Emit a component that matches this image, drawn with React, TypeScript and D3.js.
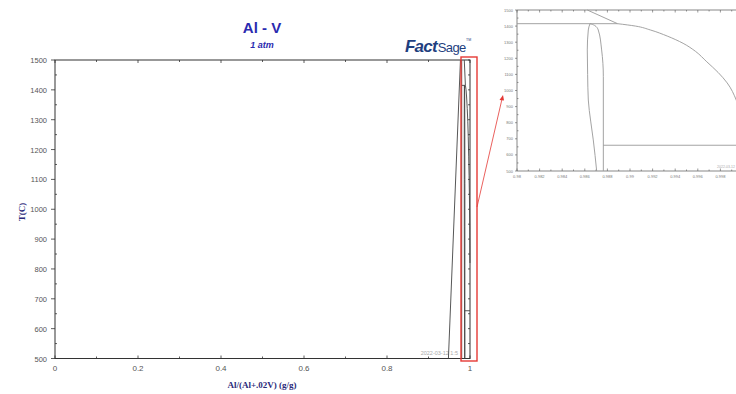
import * as d3 from "d3";

// main diagram, x = Al/(Al+.02V) mass fraction, T in C
const mainTicksX = [0, 0.2, 0.4, 0.6, 0.8, 1];
const mainTicksY = [500, 600, 700, 800, 900, 1000, 1100, 1200, 1300, 1400, 1500];
const insetTicksX = [0.98, 0.982, 0.984, 0.986, 0.988, 0.99, 0.992, 0.994, 0.996, 0.998];

// phase boundaries
const leftLiquidus: [number, number][] = [[0.948, 500], [0.977, 1500]];
const zoomEdge: [number, number][] = [[0.98, 500], [0.98, 1500]];
const peritectic: [number, number][] = [[0.98, 1415], [0.9889, 1415]];
const upperLiquidus: [number, number][] = [[0.98622, 1500], [0.9889, 1415]];
const liquidus: [number, number][] = [
  [0.9889, 1415], [0.9905, 1400], [0.9918, 1376], [0.9933, 1338], [0.9947, 1293],
  [0.9958, 1243], [0.9968, 1178], [0.9978, 1112], [0.9986, 1047], [0.9994, 941], [0.99985, 820],
];
const lensLeft: [number, number][] = [
  [0.98646, 1415], [0.98631, 1376], [0.98622, 1252], [0.98625, 1100], [0.98631, 941],
  [0.98652, 810], [0.98675, 693], [0.98705, 500],
];
const lensRight: [number, number][] = [
  [0.98646, 1415], [0.98685, 1405], [0.98719, 1376], [0.98749, 1252], [0.98764, 1086], [0.98764, 500],
];
const eutectoid: [number, number][] = [[0.98764, 660], [1.0, 660]];

const W = 736;
const H = 394;

export default function App() {
  const x = d3.scaleLinear().domain([0, 1]).range([55, 470]);
  const y = d3.scaleLinear().domain([500, 1500]).range([358.5, 60]);
  const ix = d3.scaleLinear().domain([0.98, 1.0]).range([517, 743]);
  const iy = d3.scaleLinear().domain([500, 1500]).range([171, 10]);

  const mainLine = d3.line<[number, number]>().x((d) => x(d[0])).y((d) => y(d[1]));
  const insetLine = d3
    .line<[number, number]>()
    .x((d) => ix(d[0]))
    .y((d) => iy(d[1]))
    .curve(d3.curveMonotoneY);
  const insetStraight = d3.line<[number, number]>().x((d) => ix(d[0])).y((d) => iy(d[1]));

  const mainMinorX = d3.range(0, 1.0001, 0.1);
  const mainMinorY = d3.range(500, 1501, 50);
  const insetMinorX = d3.range(0.98, 1.0001, 0.001);

  const allCurves = [peritectic, upperLiquidus, liquidus, lensLeft, lensRight, eutectoid];

  return (
    <svg width={W} height={H} style={{ position: "absolute", left: 0, top: 0, background: "#fff" }}>
      {/* titles */}
      <text x={262} y={33} textAnchor="middle" fontFamily="Arial, Liberation Sans, sans-serif" fontWeight="bold" fontSize={15} fill="#2a2ab0">
        Al - V
      </text>
      <text x={262} y={48} textAnchor="middle" fontFamily="Arial, Liberation Sans, sans-serif" fontWeight="bold" fontStyle="italic" fontSize={9} fill="#2a2ab0">
        1 atm
      </text>

      {/* logo */}
      <text x={405} y={52} fontFamily="Arial, Liberation Sans, sans-serif" fill="#1f3f7f">
        <tspan fontSize={17} fontWeight={900} fontStyle="italic" letterSpacing={-0.8}>Fact</tspan>
        <tspan fontSize={13} letterSpacing={-0.6} dx={1}>Sage</tspan>
      </text>
      <text x={466} y={41} fontFamily="Arial, sans-serif" fontSize={3.5} fill="#1f3f7f">TM</text>

      {/* main frame */}
      <rect x={x(0)} y={y(1500)} width={x(1) - x(0)} height={y(500) - y(1500)} fill="none" stroke="#333" strokeWidth={1} />
      {mainMinorX.map((v, i) => (
        <g key={"mx" + i} stroke="#333" strokeWidth={0.8}>
          <line x1={x(v)} x2={x(v)} y1={y(500)} y2={y(500) - (i % 2 === 0 ? 3 : 2)} />
          <line x1={x(v)} x2={x(v)} y1={y(1500)} y2={y(1500) + (i % 2 === 0 ? 3 : 2)} />
        </g>
      ))}
      {mainMinorY.map((v, i) => (
        <g key={"my" + i} stroke="#333" strokeWidth={0.8}>
          <line x1={x(0) - (i % 2 === 0 ? 4 : 0)} x2={x(0) + (i % 2 === 0 ? 0 : 2)} y1={y(v)} y2={y(v)} />
          <line x1={x(1)} x2={x(1) - 2} y1={y(v)} y2={y(v)} />
        </g>
      ))}
      {mainTicksX.map((v) => (
        <text key={"tx" + v} x={x(v)} y={371} textAnchor="middle" fontFamily="Arial, Liberation Sans, sans-serif" fontSize={8} fill="#555">
          {d3.format("")(v)}
        </text>
      ))}
      {mainTicksY.map((v) => (
        <text key={"ty" + v} x={47} y={y(v) + 3} textAnchor="end" fontFamily="Arial, Liberation Sans, sans-serif" fontSize={7.5} fill="#555">
          {v}
        </text>
      ))}
      <text x={262} y={388} textAnchor="middle" fontFamily="Liberation Serif, Times New Roman, serif" fontWeight="bold" fontSize={9} fill="#2a2a7a">
        Al/(Al+.02V) (g/g)
      </text>
      <text transform="translate(25,212) rotate(-90)" textAnchor="middle" fontFamily="Liberation Serif, Times New Roman, serif" fontWeight="bold" fontSize={9} fill="#2a2a7a">
        T(C)
      </text>
      <text x={458} y={355} textAnchor="end" fontFamily="Arial, sans-serif" fontSize={5.5} fill="#aaa">
        2022-03-12 1:5
      </text>

      {/* main curves */}
      <g fill="none" stroke="#444" strokeWidth={0.9}>
        <path d={mainLine(leftLiquidus) ?? ""} />
        <path d={mainLine(zoomEdge) ?? ""} />
        {allCurves.map((c, i) => (
          <path key={"mc" + i} d={mainLine(c) ?? ""} />
        ))}
      </g>

      {/* red annotation */}
      <rect x={461} y={57} width={16} height={304} fill="none" stroke="#e53935" strokeWidth={1.4} />
      <line x1={477} y1={207} x2={502} y2={99} stroke="#e53935" strokeWidth={0.8} />
      <path d="M503,95 L499.5,100 L504,100.5 Z" fill="#e53935" />

      {/* inset */}
      <g>
        <line x1={ix(0.98)} x2={W} y1={iy(500)} y2={iy(500)} stroke="#555" strokeWidth={0.7} />
        <line x1={ix(0.98)} x2={W} y1={iy(1500)} y2={iy(1500)} stroke="#555" strokeWidth={0.7} />
        <line x1={ix(0.98)} x2={ix(0.98)} y1={iy(500)} y2={iy(1500)} stroke="#555" strokeWidth={0.7} />
        {insetMinorX.map((v, i) => (
          <g key={"ix" + i} stroke="#555" strokeWidth={0.6}>
            <line x1={ix(v)} x2={ix(v)} y1={iy(500)} y2={iy(500) - (i % 2 === 0 ? 2.5 : 1.5)} />
            <line x1={ix(v)} x2={ix(v)} y1={iy(1500)} y2={iy(1500) + (i % 2 === 0 ? 2.5 : 1.5)} />
          </g>
        ))}
        {mainMinorY.map((v, i) => (
          <line key={"iy" + i} x1={ix(0.98) - (i % 2 === 0 ? 2 : 0)} x2={ix(0.98) + (i % 2 === 0 ? 0 : 1.5)} y1={iy(v)} y2={iy(v)} stroke="#555" strokeWidth={0.6} />
        ))}
        {insetTicksX.map((v) => (
          <text key={"itx" + v} x={ix(v)} y={178} textAnchor="middle" fontFamily="Arial, sans-serif" fontSize={4} fill="#777">
            {d3.format("")(+v.toFixed(3))}
          </text>
        ))}
        {mainTicksY.map((v) => (
          <text key={"ity" + v} x={513} y={iy(v) + 1.5} textAnchor="end" fontFamily="Arial, sans-serif" fontSize={4} fill="#777">
            {v}
          </text>
        ))}
        <text x={735} y={168} textAnchor="end" fontFamily="Arial, sans-serif" fontSize={3.5} fill="#aaa">
          2022-03-12
        </text>
        <g fill="none" stroke="#999" strokeWidth={0.9}>
          <path d={insetStraight(peritectic) ?? ""} />
          <path d={insetStraight(upperLiquidus) ?? ""} />
          <path d={insetStraight(eutectoid) ?? ""} />
          <path d={insetLine(liquidus) ?? ""} />
          <path d={insetLine(lensLeft) ?? ""} />
          <path d={insetLine(lensRight) ?? ""} />
        </g>
      </g>
    </svg>
  );
}
